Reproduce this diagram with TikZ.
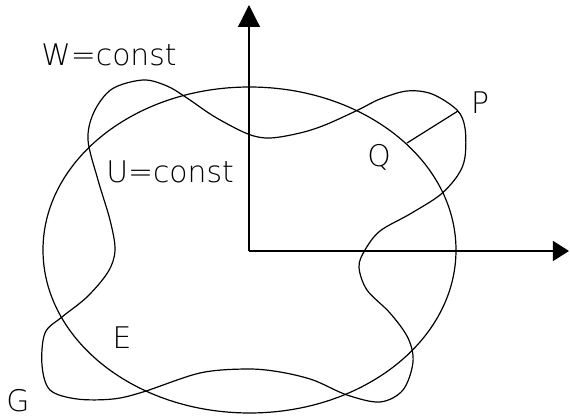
\documentclass[tikz,border=0pt]{standalone}
\usepackage{fontspec}
\setmainfont{DejaVu Sans ExtraLight}
\usetikzlibrary{arrows.meta}
\begin{document}
\begin{tikzpicture}[x=0.5pt,y=-0.5pt,
  curve/.style={line width=0.6pt},
  axis/.style={line width=0.6pt},
  lbl/.style={inner sep=0pt,font=\fontsize{14.9}{17}\selectfont}]
\useasboundingbox (0,0) rectangle (570,417);
\coordinate (O) at (249,251);
\coordinate (Ytip) at (249,5);
\coordinate (Xtip) at (569,251);
\draw[axis,-{Triangle[length=11pt,width=11pt]}] (O) -- (Ytip);
\draw[axis,-{Triangle[length=8pt,width=10pt]}] (O) -- (Xtip);
% U=const ellipse
\draw[curve] (249.5,250) ellipse [x radius=206.5, y radius=163];
% W=const wavy curve
\draw[curve] plot[smooth cycle, tension=0.55] coordinates {
 (115,250) (110,220) (98,180) (88,140) (94,112) (112,89) (143,80) (167,86)
 (187,98) (215,117) (248,134) (270,138) (300,133) (325,125) (358,110)
 (380,99) (407,91) (432,94) (457,110) (465,128) (465,157) (458,175)
 (440,195) (410,214) (380,231) (365,250) (359,267) (367,290) (390,313)
 (408,338) (413,362) (403,390) (380,402) (347,395) (313,380) (280,372)
 (247,369) (200,373) (143,392) (113,399) (77,399) (50,390) (42,365)
 (45,333) (62,317) (87,297) (108,272)};
\coordinate (P) at (458,111);
\coordinate (Q) at (407,143);
\draw[curve] (P) -- (Q);
\node[lbl] (W) at (109,55) {W=const};
\node[lbl] (U) at (170,172) {U=const};
\node[lbl] (Ql) at (379,157) {Q};
\node[lbl] (Pl) at (480,103) {P};
\node[lbl] (E) at (122,338) {E};
\node[lbl] (G) at (18,401) {G};
\end{tikzpicture}
\end{document}
